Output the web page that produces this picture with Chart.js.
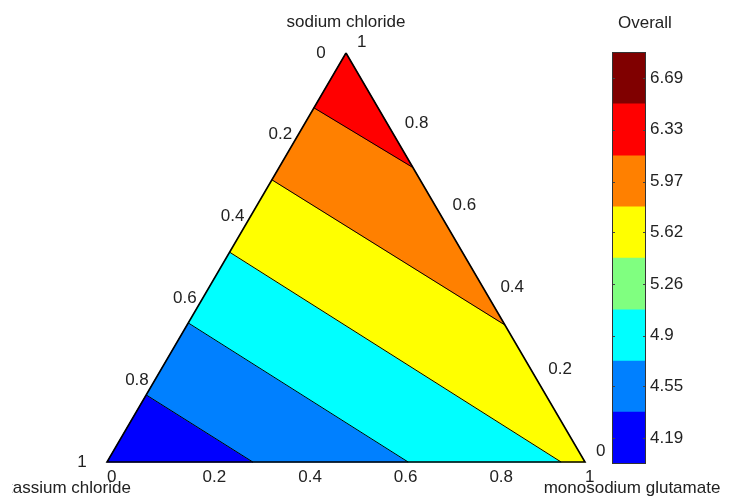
<!DOCTYPE html>
<html>
<head>
<meta charset="utf-8">
<script src="https://cdn.jsdelivr.net/npm/chart.js@4.4.1/dist/chart.umd.min.js"></script>
<style>
  html, body { margin: 0; padding: 0; background: #fff; }
  #wrap { position: relative; width: 729px; height: 500px; overflow: hidden; }
  #tern { position: absolute; left: 0; top: 0; }
  #cbar { position: absolute; left: 611px; top: 0; }
</style>
</head>
<body>
<div id="wrap">
  <canvas id="tern" width="729" height="500"></canvas>
  <canvas id="cbar" width="118" height="500"></canvas>
</div>
<script>
// Mixture components, in [sodium chloride, potassium chloride, monosodium glutamate] order
const components = ['sodium chloride', 'potassium chloride', 'monosodium glutamate'];
const axisTicks = [0, 0.2, 0.4, 0.6, 0.8, 1];
const axisTickLabels = ['0', '0.2', '0.4', '0.6', '0.8', '1'];

// Colour scale of the "Overall" score
const scoreTitle = 'Overall';
const levels = [4.19, 4.55, 4.9, 5.26, 5.62, 5.97, 6.33, 6.69];
const levelLabels = ['4.19', '4.55', '4.9', '5.26', '5.62', '5.97', '6.33', '6.69'];
const levelColors = ['#0000ff', '#0080ff', '#00ffff', '#80ff80', '#ffff00', '#ff8000', '#ff0000', '#800000'];

// Contour boundaries (top to bottom): where each one meets the triangle,
// given as compositions [NaCl, KCl, MSG]
const contourStart = [[0.866, 0.134, 0], [0.69, 0.31, 0], [0.513, 0.487, 0], [0.34, 0.66, 0], [0.164, 0.836, 0]];
const contourEnd = [[0.72, 0, 0.28], [0.335, 0, 0.665], [0, 0.05, 0.95], [0, 0.37, 0.63], [0, 0.695, 0.305]];
// Score level filling each region between boundaries, top to bottom
const bandLevels = [6.33, 5.97, 5.62, 4.9, 4.55, 4.19];

const FONT = '"Liberation Sans", Arial, Helvetica, sans-serif';
const TEXT = '#222';
Chart.defaults.font.family = FONT;
Chart.defaults.font.size = 17;
Chart.defaults.color = TEXT;

// composition -> planar coordinates (bottom edge 0..1, apex height 1)
const toXY = p => ({ x: p[2] + p[0] / 2, y: p[0] });
const APEX = [1, 0, 0], KCL = [0, 1, 0], MSG = [0, 0, 1];

function bandPolygon(i) {
  const n = contourStart.length;
  let pts;
  if (i === 0) {
    pts = [APEX, contourEnd[0], contourStart[0]];
  } else if (i === n) {
    pts = [contourStart[n - 1], contourEnd[n - 1], KCL];
  } else {
    pts = [contourStart[i - 1], contourEnd[i - 1]];
    if (contourEnd[i - 1][1] === 0 && contourEnd[i][0] === 0) pts.push(MSG);
    pts.push(contourEnd[i], contourStart[i]);
  }
  pts.push(pts[0]);
  return pts.map(toXY);
}

const colorFor = v => levelColors[levels.indexOf(v)];

const datasets = [];
bandLevels.forEach((lv, i) => {
  const c = colorFor(lv);
  datasets.push({
    data: bandPolygon(i), showLine: true, fill: 'shape',
    backgroundColor: c, borderColor: c, borderWidth: 1,
    pointRadius: 0, pointHoverRadius: 0, tension: 0, clip: false, order: 3
  });
});
contourStart.forEach((s, i) => {
  datasets.push({
    data: [toXY(s), toXY(contourEnd[i])], showLine: true, fill: false,
    borderColor: '#000', borderWidth: 1,
    pointRadius: 0, pointHoverRadius: 0, clip: false, order: 2
  });
});
datasets.push({
  data: [APEX, MSG, KCL, APEX].map(toXY), showLine: true, fill: false,
  borderColor: '#000', borderWidth: 1.6, borderJoinStyle: 'miter',
  pointRadius: 0, pointHoverRadius: 0, clip: false, order: 1
});

// Axis tick labels and component names around the triangle
const ternaryText = {
  id: 'ternaryText',
  afterDraw(chart) {
    const { ctx, scales: { x, y } } = chart;
    const px = p => { const q = toXY(p); return { x: x.getPixelForValue(q.x), y: y.getPixelForValue(q.y) }; };
    ctx.save();
    ctx.font = '17px ' + FONT;
    ctx.fillStyle = TEXT;
    ctx.textBaseline = 'middle';
    const w = ctx.measureText('0.2').width;
    ctx.textAlign = 'left';
    axisTicks.forEach((v, i) => {
      // monosodium glutamate along the bottom
      const b = px([0, 1 - v, v]);
      ctx.fillText(axisTickLabels[i], b.x, b.y + 15);
      // potassium chloride along the left side
      const l = px([1 - v, v, 0]);
      ctx.fillText(axisTickLabels[i], l.x - 6 - w, l.y);
      // sodium chloride along the right side
      const r = px([v, 0, 1 - v]);
      ctx.fillText(axisTickLabels[i], r.x + 11, r.y - 11);
    });
    ctx.textAlign = 'center';
    const a = px(APEX), k = px(KCL), m = px(MSG);
    ctx.fillText(components[0], a.x, a.y - 31);
    ctx.fillText(components[2], m.x + 47, m.y + 26);
    // the figure frame cuts off the start of the left-hand name
    ctx.beginPath();
    ctx.rect(12.5, 0, chart.width - 12.5, chart.height);
    ctx.clip();
    ctx.fillText(components[1], k.x - 47, k.y + 26);
    ctx.restore();
  }
};

new Chart(document.getElementById('tern'), {
  type: 'scatter',
  data: { datasets },
  options: {
    responsive: false,
    animation: false,
    events: [],
    layout: { padding: { left: 107, right: 144, top: 53, bottom: 38 } },
    plugins: { legend: { display: false }, tooltip: { enabled: false } },
    scales: {
      x: { type: 'linear', min: 0, max: 1, display: false },
      y: { type: 'linear', min: 0, max: 1, display: false }
    }
  },
  plugins: [ternaryText]
});

// Colour bar: one floating bar per level, spanning halfway to its neighbours
const edges = levels.map((v, i) => i === 0 ? v - (levels[1] - levels[0]) / 2 : (levels[i - 1] + v) / 2);
edges.push(levels[levels.length - 1] + (levels[levels.length - 1] - levels[levels.length - 2]) / 2);

const cbarFrame = {
  id: 'cbarFrame',
  afterDraw(chart) {
    const { ctx, chartArea: ca, scales: { y } } = chart;
    ctx.save();
    ctx.strokeStyle = '#444';
    ctx.lineWidth = 1;
    levels.forEach(v => {
      const py = Math.round(y.getPixelForValue(v)) + 0.5;
      ctx.beginPath();
      ctx.moveTo(ca.left, py); ctx.lineTo(ca.left + 3, py);
      ctx.moveTo(ca.right - 3, py); ctx.lineTo(ca.right, py);
      ctx.stroke();
    });
    ctx.strokeStyle = '#333';
    ctx.strokeRect(ca.left + 0.5, ca.top + 0.5, ca.right - ca.left - 1, ca.bottom - ca.top - 1);
    ctx.font = '17px ' + FONT;
    ctx.fillStyle = TEXT;
    ctx.textAlign = 'left';
    ctx.textBaseline = 'middle';
    ctx.fillText(scoreTitle, ca.left + 6, ca.top - 29);
    ctx.restore();
  }
};

new Chart(document.getElementById('cbar'), {
  type: 'bar',
  data: {
    labels: [''],
    datasets: levels.map((v, i) => ({
      data: [[edges[i], edges[i + 1]]],
      backgroundColor: levelColors[i],
      borderWidth: 0,
      grouped: false,
      barPercentage: 1,
      categoryPercentage: 1
    }))
  },
  options: {
    responsive: false,
    animation: false,
    events: [],
    layout: { padding: { left: 1, right: 0, top: 52, bottom: 36 } },
    plugins: { legend: { display: false }, tooltip: { enabled: false } },
    scales: {
      x: { display: false },
      y: {
        position: 'right',
        min: edges[0],
        max: edges[edges.length - 1],
        grid: { display: false, drawTicks: false },
        border: { display: false },
        afterBuildTicks: s => { s.ticks = levels.map(v => ({ value: v })); },
        afterFit: s => { s.width = 83; },
        ticks: { padding: 4, color: TEXT, font: { size: 17 }, callback: (v, i) => levelLabels[i] }
      }
    }
  },
  plugins: [cbarFrame]
});
</script>
</body>
</html>
